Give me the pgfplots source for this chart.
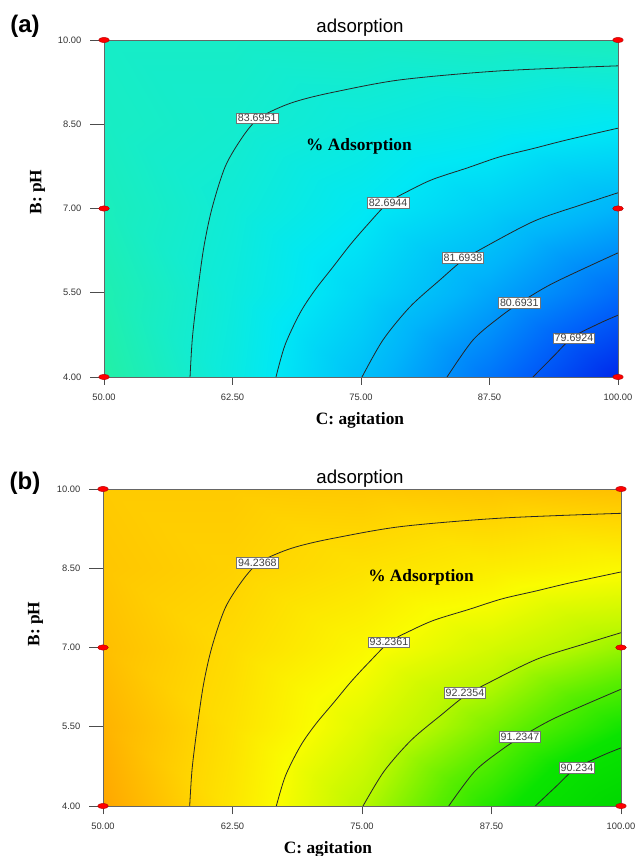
\documentclass[border=0pt]{standalone}
\usepackage{fontspec}
\setmainfont{Liberation Serif}
\setsansfont{Liberation Sans}
\usepackage{pgfplots}
\pgfplotsset{compat=1.18}

\pgfplotsset{
  rsm/.style={
    view={0}{90},
    scale only axis,
    xmin=50, xmax=100, ymin=4, ymax=10,
    xtick={50,62.5,75,87.5,100},
    xticklabels={50.00,62.50,75.00,87.50,100.00},
    ytick={4,5.5,7,8.5,10},
    yticklabels={4.00,5.50,7.00,8.50,10.00},
    ztick=\empty,
    tick align=outside,
    major tick length=6pt,
    xtick pos=left, ytick pos=left,
    tick style={black!70, line width=0.5pt},
    ytick style={/pgfplots/major tick length=10.5pt},
    tick label style={font=\sffamily\fontsize{7}{8}\selectfont, text=black!80},
    xticklabel style={yshift=-3pt},
    yticklabel style={xshift=-7.5pt},
    axis line style={black!60, line width=0.6pt},
    clip=false,
    enlargelimits=false,
    axis on top,
  },
  cline/.style={black!85, line width=0.6pt, smooth, no marks},
  dpts/.style={only marks, mark=*, mark size=2pt,
    mark options={fill=red, draw=red!70!black, line width=0.3pt, xscale=2.0}},
}
\tikzset{
  clabel/.style={fill=white, draw=black!55, line width=0.4pt, inner sep=1.1pt,
    font=\sffamily\fontsize{8}{8.5}\selectfont, text=black!75},
}

\begin{document}
\begin{tikzpicture}
\path[use as bounding box] (0,0) rectangle (476.25pt,-642pt);

% ---------------- (a) ----------------
\begin{axis}[rsm, at={(78pt,-30pt)}, anchor=north west,
  width=385.5pt, height=252.75pt,
  colormap={mapa}{rgb255(0cm)=(0,40,235) rgb255(1.2cm)=(0,100,250)
    rgb255(2.7cm)=(0,180,250) rgb255(4.0cm)=(0,232,245)
    rgb255(5.0cm)=(20,236,205) rgb255(6.0cm)=(35,240,165)},
  point meta min=78.8, point meta max=84.8]
\addplot3[surf, shader=interp, mesh/rows=5, mesh/cols=5] table {
x y z
50 4 84.79
62.5 4 83.30
75 4 81.80
87.5 4 80.31
100 4 78.81
50 5.5 84.51
62.5 5.5 83.42
75 5.5 82.34
87.5 5.5 81.25
100 5.5 80.16
50 7 84.23
62.5 7 83.55
75 7 82.87
87.5 7 82.19
100 7 81.51
50 8.5 84.05
62.5 8.5 83.78
75 8.5 83.41
87.5 8.5 83.13
100 8.5 82.86
50 10 83.95
62.5 10 83.95
75 10 83.99
87.5 10 84.08
100 10 84.21
};
\addplot3[cline] coordinates {(58.37,4.00,83.70) (58.6,4.7,83.70) (59.1,5.5,83.70) (59.7,6.3,83.70) (60.5,7.0,83.70) (61.8,7.75,83.70) (63.5,8.28,83.70) (65.0,8.60,83.70) (67.1,8.80,83.70) (69.1,8.93,83.70) (72.3,9.07,83.70) (78.8,9.29,83.70) (88.5,9.45,83.70) (100,9.54,83.70)};
\addplot3[cline] coordinates {(66.73,4.00,82.69) (67.61,4.57,82.69) (69.07,5.14,82.69) (70.53,5.55,82.69) (72.28,5.96,82.69) (73.93,6.35,82.69) (75.58,6.70,82.69) (77.63,7.10,82.69) (79.7,7.32,82.69) (82.0,7.52,82.69) (85.3,7.72,82.69) (88.5,7.92,82.69) (91.8,8.07,82.69) (95.0,8.22,82.69) (100,8.43,82.69)};
\addplot3[cline] coordinates {(75.10,4.00,81.69) (77.14,4.66,81.69) (79.77,5.25,81.69) (82.69,5.73,81.69) (84.92,6.08,81.69) (87.2,6.33,81.69) (91.9,6.78,81.69) (96.5,7.07,81.69) (100,7.28,81.69)};
\addplot3[cline] coordinates {(83.37,4.00,80.69) (85.90,4.66,80.69) (88.52,5.07,80.69) (90.47,5.32,80.69) (93.68,5.67,80.69) (100,6.21,80.69)};
\addplot3[cline] coordinates {(91.73,4.00,79.69) (93.68,4.36,79.69) (95.62,4.71,79.69) (98.25,4.96,79.69) (100,5.10,79.69)};
\node[clabel] at (axis cs:64.9,8.61,83.70) {83.6951};
\node[clabel] at (axis cs:77.63,7.10,82.69) {82.6944};
\node[clabel] at (axis cs:84.92,6.12,81.69) {81.6938};
\node[clabel] at (axis cs:90.4,5.32,80.69) {80.6931};
\node[clabel] at (axis cs:95.72,4.69,79.69) {79.6924};
\node[font=\bfseries\fontsize{13}{15}\selectfont] at (axis cs:74.8,8.11,83) {\% Adsorption};
\addplot3[dpts] coordinates {(50,4,84) (50,7,84) (50,10,84) (100,4,84) (100,7,84) (100,10,84)};
\end{axis}

% ---------------- (b) ----------------
\begin{axis}[rsm, at={(77.25pt,-366.75pt)}, anchor=north west,
  width=388.5pt, height=237.75pt,
  colormap={mapb}{rgb255(0cm)=(0,215,0) rgb255(1.25cm)=(10,228,0)
    rgb255(2.15cm)=(90,238,0) rgb255(3.05cm)=(190,248,0)
    rgb255(3.95cm)=(250,252,0) rgb255(4.85cm)=(255,215,0)
    rgb255(6.0cm)=(255,165,0)},
  point meta min=89.35, point meta max=95.35]
\addplot3[surf, shader=interp, mesh/rows=5, mesh/cols=5] table {
x y z
50 4 95.33
62.5 4 93.84
75 4 92.34
87.5 4 90.85
100 4 89.35
50 5.5 95.05
62.5 5.5 93.96
75 5.5 92.88
87.5 5.5 91.79
100 5.5 90.70
50 7 94.77
62.5 7 94.09
75 7 93.41
87.5 7 92.73
100 7 92.05
50 8.5 94.59
62.5 8.5 94.32
75 8.5 93.95
87.5 8.5 93.67
100 8.5 93.40
50 10 94.49
62.5 10 94.49
75 10 94.53
87.5 10 94.62
100 10 94.75
};
\addplot3[cline] coordinates {(58.37,4.00,94.24) (58.6,4.7,94.24) (59.1,5.5,94.24) (59.7,6.3,94.24) (60.5,7.0,94.24) (61.8,7.75,94.24) (63.5,8.28,94.24) (65.0,8.60,94.24) (67.1,8.80,94.24) (69.1,8.93,94.24) (72.3,9.07,94.24) (78.8,9.29,94.24) (88.5,9.45,94.24) (100,9.54,94.24)};
\addplot3[cline] coordinates {(66.73,4.00,93.24) (67.61,4.57,93.24) (69.07,5.14,93.24) (70.53,5.55,93.24) (72.28,5.96,93.24) (73.93,6.35,93.24) (75.58,6.70,93.24) (77.63,7.10,93.24) (79.7,7.32,93.24) (82.0,7.52,93.24) (85.3,7.72,93.24) (88.5,7.92,93.24) (91.8,8.07,93.24) (95.0,8.22,93.24) (100,8.43,93.24)};
\addplot3[cline] coordinates {(75.10,4.00,92.24) (77.14,4.66,92.24) (79.77,5.25,92.24) (82.69,5.73,92.24) (84.92,6.08,92.24) (87.2,6.33,92.24) (91.9,6.78,92.24) (96.5,7.07,92.24) (100,7.28,92.24)};
\addplot3[cline] coordinates {(83.37,4.00,91.23) (85.90,4.66,91.23) (88.52,5.07,91.23) (90.47,5.32,91.23) (93.68,5.67,91.23) (100,6.21,91.23)};
\addplot3[cline] coordinates {(91.73,4.00,90.23) (93.68,4.36,90.23) (95.62,4.71,90.23) (98.25,4.96,90.23) (100,5.10,90.23)};
\node[clabel] at (axis cs:64.9,8.60,94.24) {94.2368};
\node[clabel] at (axis cs:77.6,7.10,93.24) {93.2361};
\node[clabel] at (axis cs:84.94,6.14,92.24) {92.2354};
\node[clabel] at (axis cs:90.25,5.31,91.23) {91.2347};
\node[clabel] at (axis cs:95.75,4.72,90.23) {90.234};
\node[font=\bfseries\fontsize{13}{15}\selectfont] at (axis cs:80.7,8.33,94) {\% Adsorption};
\addplot3[dpts] coordinates {(50,4,94) (50,7,94) (50,10,94) (100,4,94) (100,7,94) (100,10,94)};
\end{axis}

% ---------------- texts ----------------
\node[font=\sffamily\fontsize{14}{16}\selectfont, anchor=base] at (270pt,-24.75pt) {adsorption};
\node[font=\sffamily\fontsize{14}{16}\selectfont, anchor=base] at (270pt,-362.25pt) {adsorption};
\node[font=\sffamily\bfseries\fontsize{18}{20}\selectfont] at (18.75pt,-19.5pt) {(a)};
\node[font=\sffamily\bfseries\fontsize{18}{20}\selectfont] at (18.75pt,-362.25pt) {(b)};
\node[font=\bfseries\fontsize{13}{15}\selectfont, anchor=base] at (270pt,-318pt) {C: agitation};
\node[font=\bfseries\fontsize{13}{15}\selectfont, anchor=base] at (246pt,-639.75pt) {C: agitation};
\node[font=\bfseries\fontsize{13}{15}\selectfont, anchor=base, rotate=90] at (31.1pt,-144pt) {B: pH};
\node[font=\bfseries\fontsize{13}{15}\selectfont, anchor=base, rotate=90] at (29.6pt,-468pt) {B: pH};
\end{tikzpicture}
\end{document}
